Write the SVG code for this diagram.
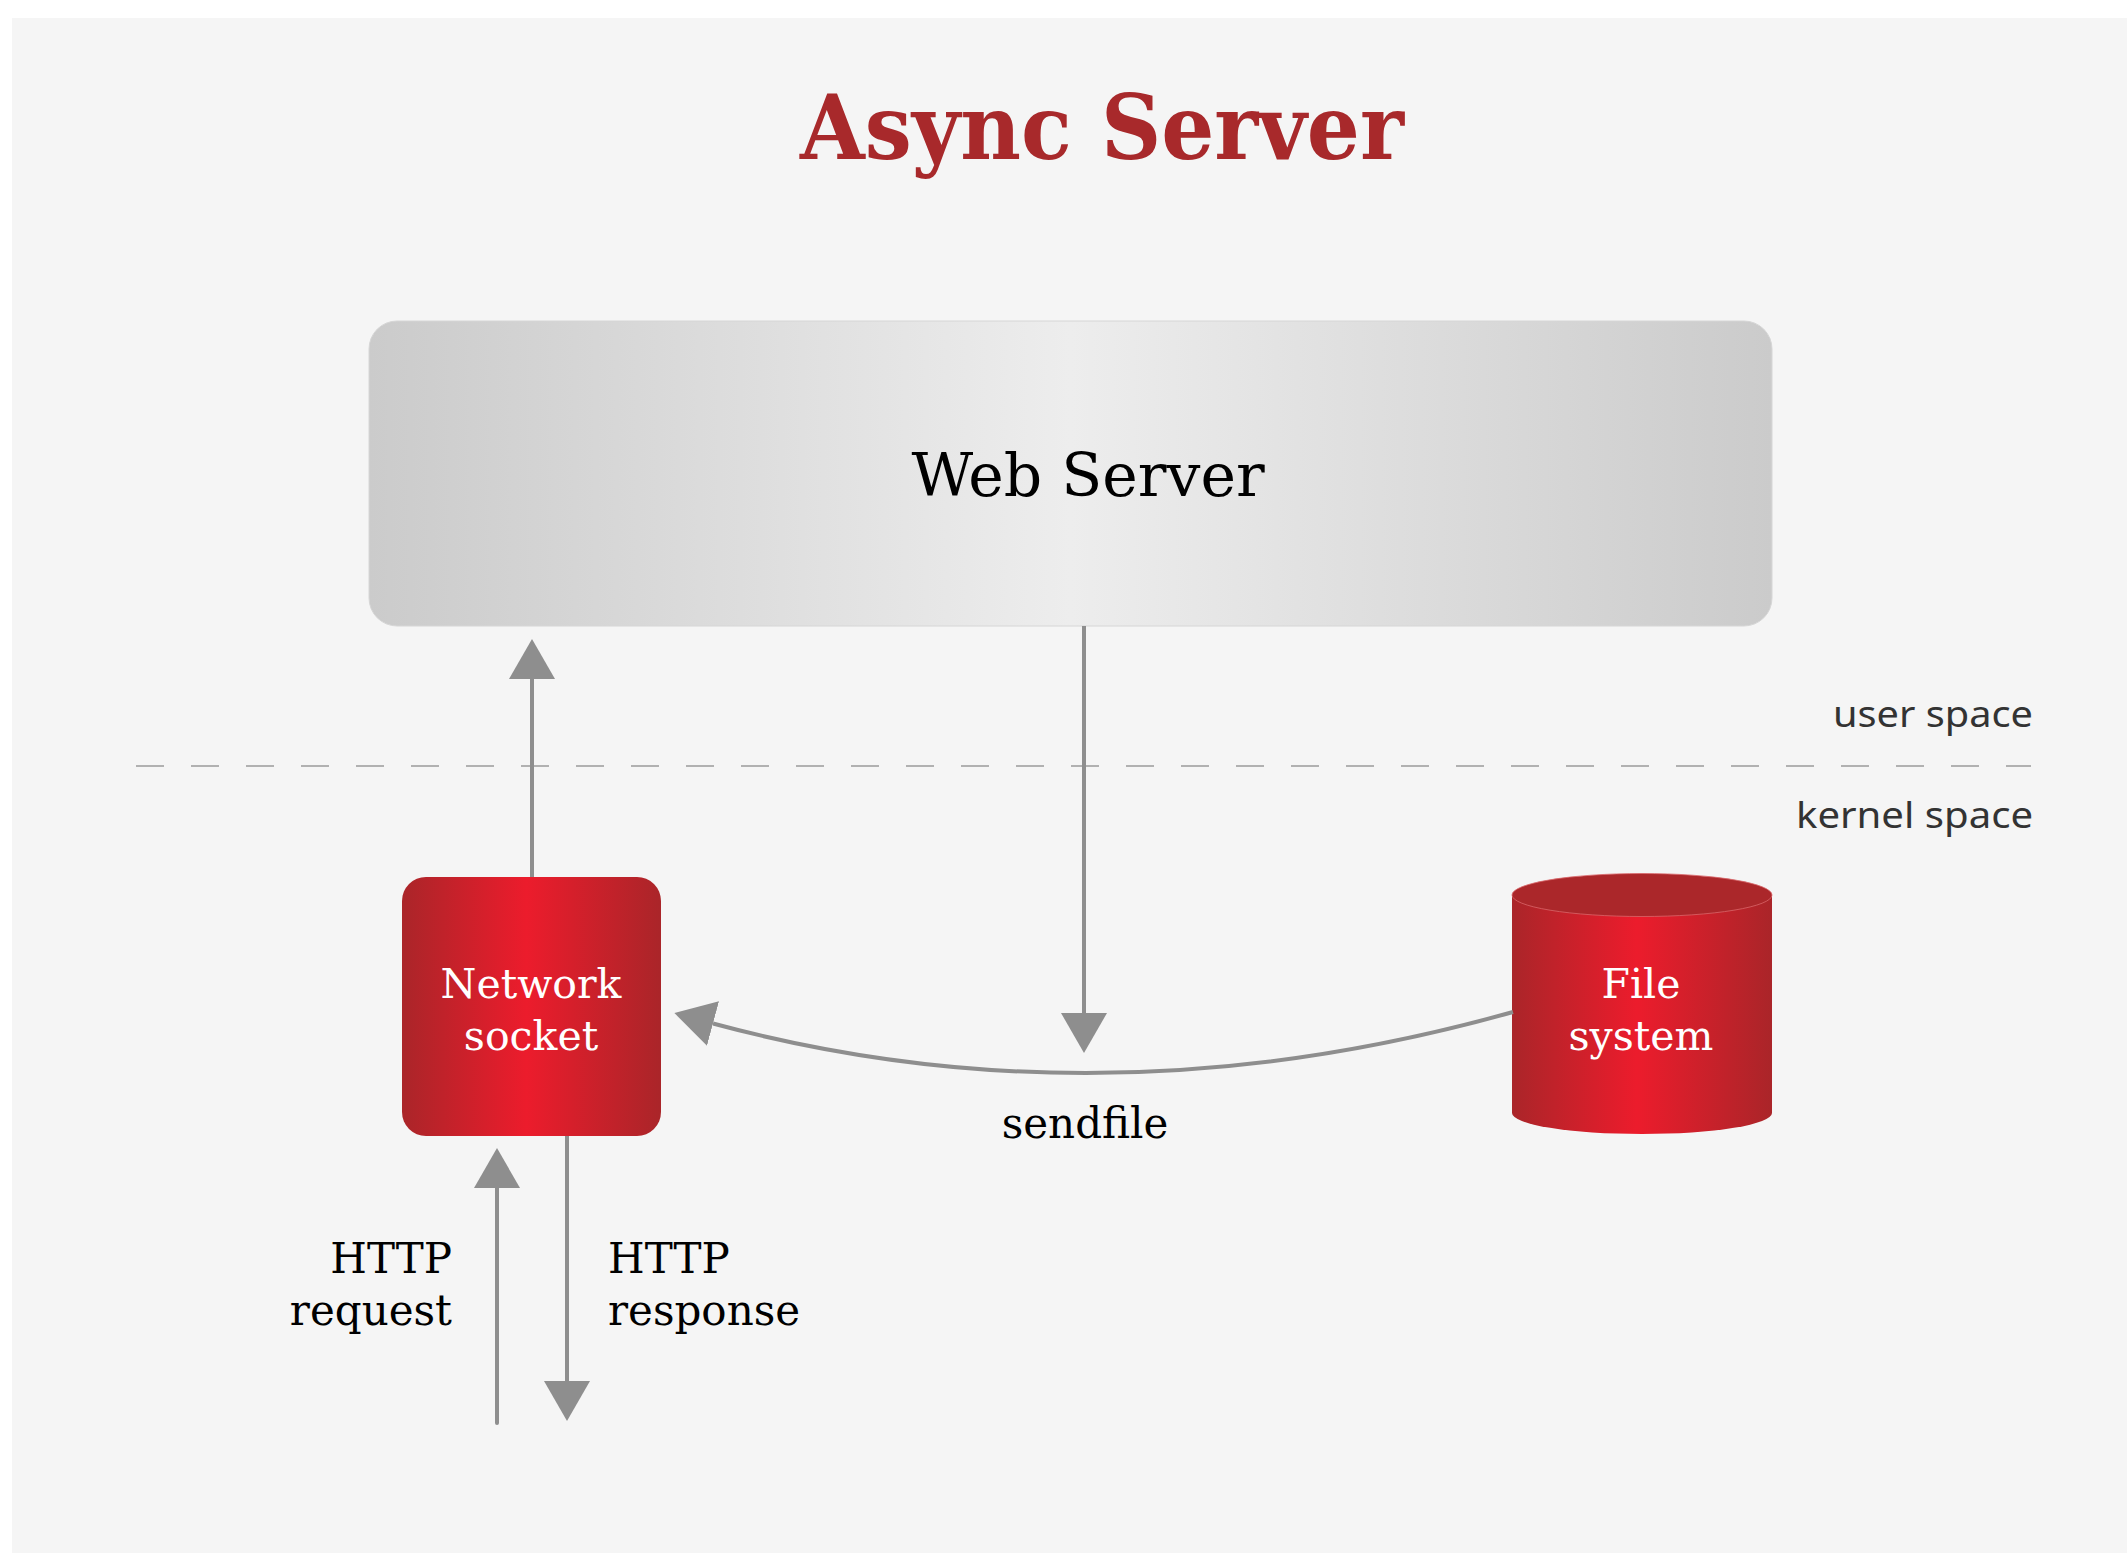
<svg xmlns="http://www.w3.org/2000/svg" width="2127" height="1553" viewBox="0 0 2127 1553">
  <style>
    .slab { font-family: "DejaVu Serif", "Liberation Serif", serif; }
    .title { font-size: 89px; font-weight: bold; fill: #a8292b; }
    .node-label { font-size: 41px; fill: #ffffff; text-anchor: middle; }
    .dark-label { font-size: 42px; fill: #000000; }
    .space-label { font-family: "Noto Sans", "Open Sans", sans-serif; font-size: 36px; fill: #333333; text-anchor: end; }
    .conn { fill: none; stroke: #8e8e8e; stroke-width: 4; }
  </style>
  <defs>
    <linearGradient id="serverFill" x1="0" y1="0" x2="1" y2="0">
      <stop offset="0" stop-color="#cbcbcb"/>
      <stop offset="0.5" stop-color="#ededed"/>
      <stop offset="1" stop-color="#cbcbcb"/>
    </linearGradient>
    <linearGradient id="redFill" x1="0" y1="0" x2="1" y2="0">
      <stop offset="0" stop-color="#aa2529"/>
      <stop offset="0.48" stop-color="#ec1c2c"/>
      <stop offset="1" stop-color="#aa2529"/>
    </linearGradient>
    <marker id="head" markerUnits="userSpaceOnUse" markerWidth="41" markerHeight="47" refX="0" refY="23" orient="auto" viewBox="0 0 41 47">
      <path d="M0,0 L40,23 L0,46 Z" fill="#8e8e8e"/>
    </marker>
  </defs>

  <!-- canvas -->
  <rect width="2127" height="1553" fill="#ffffff"/>
  <rect x="12" y="18" width="2115" height="1535" fill="#f5f5f5"/>

  <text class="slab title" x="800" y="159" textLength="604" lengthAdjust="spacingAndGlyphs">Async Server</text>

  <!-- user / kernel boundary -->
  <g id="boundary">
    <line x1="136" y1="766" x2="2031" y2="766" stroke="#9a9a9a" stroke-width="1.5" stroke-dasharray="28 27"/>
    <text class="space-label" x="2033" y="727" textLength="200" lengthAdjust="spacingAndGlyphs">user space</text>
    <text class="space-label" x="2033" y="828" textLength="237" lengthAdjust="spacingAndGlyphs">kernel space</text>
  </g>

  <g id="web-server">
    <rect x="369" y="321" width="1403" height="305" rx="28" ry="28" fill="url(#serverFill)" stroke="#d6d6d6" stroke-width="1"/>
    <text class="slab" x="1088" y="496" font-size="60" text-anchor="middle" fill="#000000">Web Server</text>
  </g>

  <g id="network-socket">
    <rect x="402" y="877" width="259" height="259" rx="24" ry="24" fill="url(#redFill)"/>
    <text class="slab node-label" x="531" y="998">Network</text>
    <text class="slab node-label" x="531" y="1050">socket</text>
  </g>

  <g id="file-system">
    <path d="M1512,895 L1512,1113 A130,21 0 0 0 1772,1113 L1772,895 Z" fill="url(#redFill)"/>
    <ellipse cx="1642" cy="895" rx="130" ry="21.5" fill="#ab272a" stroke="#d9666a" stroke-width="0.8"/>
    <text class="slab node-label" x="1641" y="998">File</text>
    <text class="slab node-label" x="1641" y="1050">system</text>
  </g>

  <g id="connectors">
    <!-- socket up to web server -->
    <line class="conn" x1="532" y1="877" x2="532" y2="679" marker-end="url(#head)"/>
    <!-- web server down to sendfile -->
    <line class="conn" x1="1084" y1="626" x2="1084" y2="1013" marker-end="url(#head)"/>
    <!-- sendfile: file system to socket -->
    <path class="conn" d="M1513,1012 Q1100,1128 713,1023.5" marker-end="url(#head)"/>
    <!-- HTTP request in -->
    <line class="conn" x1="497" y1="1423" x2="497" y2="1188" stroke-linecap="round" marker-end="url(#head)"/>
    <!-- HTTP response out -->
    <line class="conn" x1="567" y1="1136" x2="567" y2="1381" marker-end="url(#head)"/>
  </g>

  <g id="connector-labels">
    <text class="slab dark-label" x="1085" y="1138" text-anchor="middle">sendfile</text>
    <text class="slab dark-label" x="452" y="1273" text-anchor="end">HTTP</text>
    <text class="slab dark-label" x="452" y="1325" text-anchor="end">request</text>
    <text class="slab dark-label" x="608" y="1273">HTTP</text>
    <text class="slab dark-label" x="608" y="1325">response</text>
  </g>
</svg>
